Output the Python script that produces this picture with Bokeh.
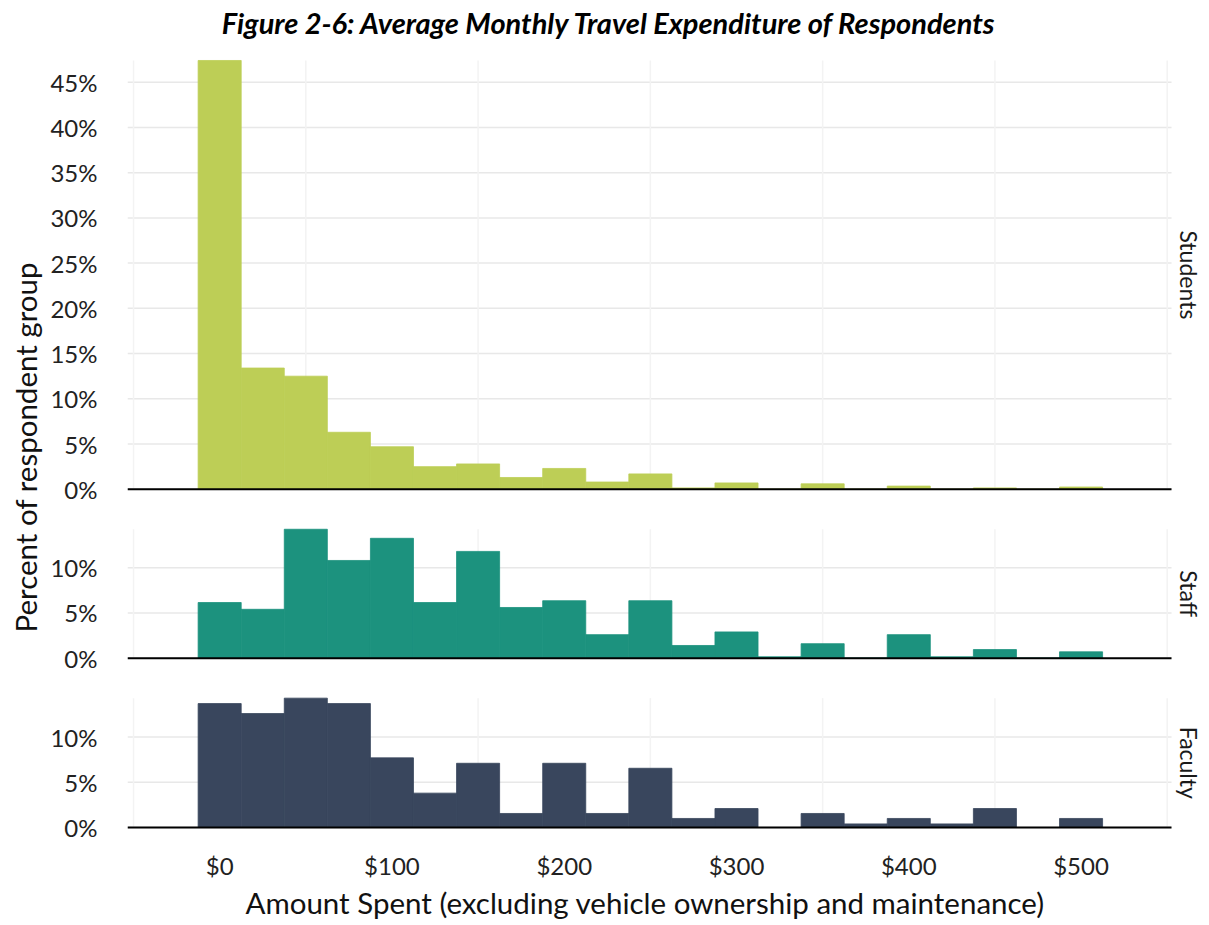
from bokeh.plotting import figure
from bokeh.models import Range1d, FixedTicker, Label, Title
from bokeh.embed import file_html
from bokeh.resources import INLINE
import math

# ---------------- data ----------------
BIN_CENTERS = [0, 25, 50, 75, 100, 125, 150, 175, 200, 225, 250,
               275, 300, 325, 350, 375, 400, 425, 450, 475, 500]
BIN_WIDTH = 25

GROUPS = ["Students", "Staff", "Faculty"]
STUDENTS = [47.4, 13.4, 12.5, 6.3, 4.7, 2.5, 2.8, 1.3, 2.3, 0.8, 1.7,
            0.15, 0.7, 0.0, 0.6, 0.0, 0.35, 0.0, 0.15, 0.0, 0.25]
STAFF = [6.15, 5.4, 14.25, 10.8, 13.25, 6.15, 11.8, 5.6, 6.35, 2.6, 6.35,
         1.4, 2.9, 0.15, 1.6, 0.0, 2.6, 0.15, 0.95, 0.0, 0.7]
FACULTY = [13.7, 12.6, 14.3, 13.7, 7.7, 3.8, 7.1, 1.55, 7.1, 1.55, 6.55,
           1.0, 2.1, 0.0, 1.55, 0.4, 1.0, 0.4, 2.1, 0.0, 1.0]
COLORS = ["#BDCE56", "#1C927E", "#39465D"]

X_TICKS = [0, 100, 200, 300, 400, 500]
X_TICK_LABELS = ["$0", "$100", "$200", "$300", "$400", "$500"]
X_MINOR_GRID = [-50, 50, 150, 250, 350, 450, 550]
Y_TICKS = {
    "Students": [0, 5, 10, 15, 20, 25, 30, 35, 40, 45],
    "Staff": [0, 5, 10],
    "Faculty": [0, 5, 10],
}

TITLE = "Figure 2-6: Average Monthly Travel Expenditure of Respondents"
X_LABEL = "Amount Spent (excluding vehicle ownership and maintenance)"
Y_LABEL = "Percent of respondent group"

# ---------------- layout (page pixels) ----------------
PAGE_OFF_X, PAGE_OFF_Y = 8, 0
PANEL_L, PANEL_R = 128, 1172          # panel horizontal extent
PANEL_T, PANEL_B = 60, 827            # top of first panel / bottom of last
FRAME_B = PANEL_B + 2
FIG_R = 1206
GAP_PX = 40
X0, X1 = -53.5, 552.5                 # data range of the panels
FONT = "Lato"

series = {"Students": STUDENTS, "Staff": STAFF, "Faculty": FACULTY}
maxima = {g: max(series[g]) for g in GROUPS}
upp = sum(maxima.values()) / ((PANEL_B - PANEL_T) - 2 * GAP_PX)   # units / px
xpp = (X1 - X0) / (PANEL_R - PANEL_L)
gap = GAP_PX * upp

bases = {}
cur = 0.0
for g in reversed(GROUPS):
    bases[g] = round(cur, 4)
    cur = cur + maxima[g] + gap
panels_top = bases["Students"] + maxima["Students"]

frame_top_page = PAGE_OFF_Y
XR = X1 + (FIG_R - PANEL_R) * xpp
YT = panels_top + (PANEL_T - frame_top_page) * upp
YB = -(FRAME_B - PANEL_B) * upp


def dx(px):
    return X0 + (px - PANEL_L) * xpp


def dy(py):
    return (PANEL_B - py) * upp


p = figure(frame_width=FIG_R - PANEL_L, frame_height=FRAME_B - frame_top_page,
           output_backend="svg", toolbar_location=None,
           x_range=Range1d(X0, XR), y_range=Range1d(YB, YT),
           min_border_left=PANEL_L - PAGE_OFF_X, min_border_right=0,
           min_border_top=0, min_border_bottom=0)
p.outline_line_color = None
p.background_fill_color = "white"
p.xgrid.grid_line_color = None
p.ygrid.grid_line_color = None

# y ticks per panel
all_ticks, overrides = [], {}
for g in GROUPS:
    for t in Y_TICKS[g]:
        v = round(bases[g] + t, 4)
        all_ticks.append(v)
        overrides[v] = f"{t}%"
p.yaxis.ticker = FixedTicker(ticks=all_ticks)
p.yaxis.major_label_overrides = overrides
p.xaxis.ticker = FixedTicker(ticks=X_TICKS)
p.xaxis.major_label_overrides = dict(zip(X_TICKS, X_TICK_LABELS))

for ax in (p.xaxis, p.yaxis):
    ax.axis_line_color = None
    ax.major_tick_line_color = None
    ax.minor_tick_line_color = None
    ax.major_label_text_font = FONT
    ax.major_label_text_font_size = "24px"
    ax.major_label_text_color = "#222222"

p.yaxis.major_label_standoff = 24
p.xaxis.major_label_standoff = 15

# axis titles placed as side titles so they sit centred on the panels
ylab = Title(text=Y_LABEL, align="left", offset=(FRAME_B - 632),
             text_font=FONT, text_font_size="29.5px",
             text_font_style="normal", text_color="#111111", standoff=10)
p.add_layout(ylab, "left")
xlab = Title(text=X_LABEL, align="left", offset=(246 - PANEL_L),
             text_font=FONT, text_font_size="29.5px",
             text_font_style="normal", text_color="#111111", standoff=0)
p.add_layout(xlab, "below")

# horizontal grid lines inside panels
gy = all_ticks
p.segment(x0=[X0] * len(gy), x1=[X1] * len(gy), y0=gy, y1=gy,
          line_color="#E8E8E8", line_width=1.5)

for g, color in zip(GROUPS, COLORS):
    b = bases[g]
    top_panel = b + maxima[g]
    p.segment(x0=X_MINOR_GRID, x1=X_MINOR_GRID,
              y0=[b] * len(X_MINOR_GRID), y1=[top_panel] * len(X_MINOR_GRID),
              line_color="#F3F3F3", line_width=1.5)
    vals = series[g]
    p.quad(left=[c - BIN_WIDTH / 2 for c in BIN_CENTERS],
           right=[c + BIN_WIDTH / 2 for c in BIN_CENTERS],
           bottom=[b] * len(vals), top=[b + v for v in vals],
           fill_color=color, line_color=color, line_width=0.8)
    p.segment(x0=[X0], x1=[X1], y0=[b], y1=[b], line_color="black",
              line_width=2)
    p.add_layout(Label(x=dx(1189), y=b + maxima[g] / 2, text=g,
                       angle=-math.pi / 2, text_align="center",
                       text_baseline="middle", text_font=FONT,
                       text_font_size="23px", text_color="#1A1A1A"))

p.add_layout(Label(x=dx(610), y=dy(22), text=TITLE, text_align="center",
                   text_baseline="middle", text_font=FONT,
                   text_font_size="29px", text_font_style="bold italic",
                   text_color="black"))

open("out.html", "w").write(file_html(p, INLINE))
